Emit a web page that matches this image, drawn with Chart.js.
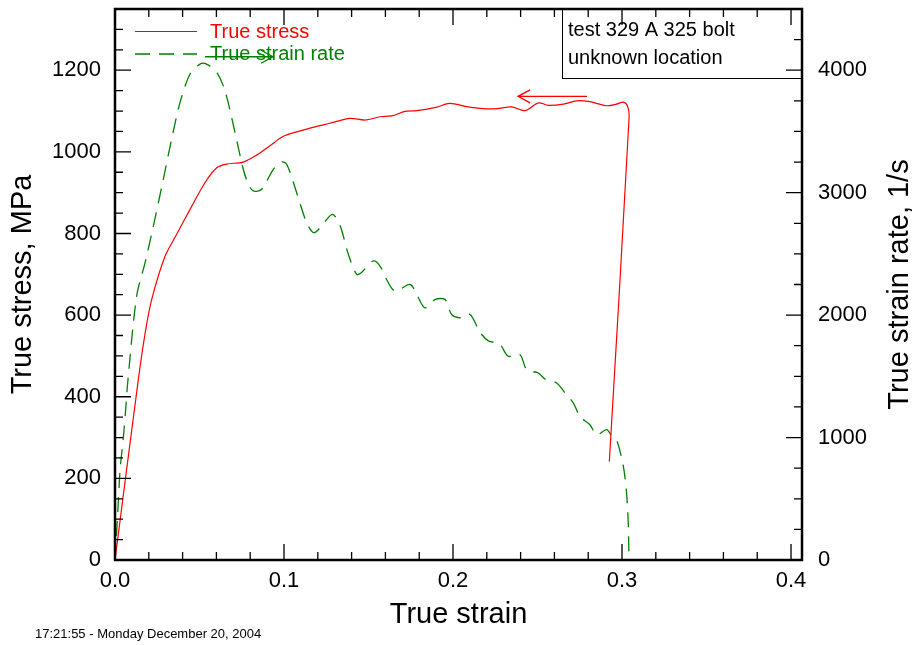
<!DOCTYPE html>
<html>
<head>
<meta charset="utf-8">
<title>True stress / true strain rate</title>
<script src="https://cdn.jsdelivr.net/npm/chart.js@4.4.0/dist/chart.umd.min.js"></script>
<style>
  html, body { margin: 0; padding: 0; background: #fff; }
  #wrap { width: 912px; height: 645px; }
</style>
</head>
<body>
<div id="wrap"><canvas id="chart" width="912" height="645"></canvas></div>
<script>
// ════════════════════════════════════════════════════════════
// True stress + true strain rate vs true strain (test 329)
// ════════════════════════════════════════════════════════════

// ── DATA : true stress (left axis, MPa) ─────────────────────
const STRESS_STRAIN = [0, 0.0138, 0.018, 0.0217, 0.0296, 0.0365, 0.0444, 0.0533, 0.0602, 0.066,
  0.0759, 0.0838, 0.0917, 0.0996, 0.1075, 0.119, 0.127, 0.139, 0.148, 0.157,
  0.1637, 0.1716, 0.1785, 0.190, 0.198, 0.208, 0.218, 0.226, 0.2347, 0.2426,
  0.2505, 0.2564, 0.2653, 0.2732, 0.281, 0.291, 0.2968, 0.3008, 0.3032, 0.3042, 0.2925];
const STRESS = [0, 442, 560, 638, 744, 798, 859, 925, 961, 970,
  975, 992, 1015, 1038, 1049, 1062, 1070, 1082, 1078, 1086,
  1088, 1099, 1101, 1109, 1119, 1111, 1106, 1106, 1110, 1101,
  1120, 1114, 1117, 1125, 1123, 1113, 1117, 1122, 1113, 1085, 241];

// ── DATA : true strain rate (right axis, 1/s) ───────────────
const RATE_STRAIN = [0, 0.0016, 0.003, 0.005, 0.0063, 0.0075, 0.0128, 0.0178, 0.0227, 0.0286,
  0.0335, 0.0385, 0.0444, 0.0503, 0.0542, 0.0602, 0.0651, 0.071, 0.0759, 0.0789,
  0.0818, 0.0868, 0.0937, 0.0986, 0.1016, 0.1075, 0.1134, 0.1178, 0.1233, 0.1287,
  0.1331, 0.138, 0.143, 0.146, 0.1529, 0.1568, 0.1607, 0.1657, 0.1746, 0.1785,
  0.1834, 0.1893, 0.1953, 0.1992, 0.2051, 0.2101, 0.216, 0.2209, 0.2276, 0.2327,
  0.2396, 0.2436, 0.2505, 0.2544, 0.2613, 0.2663, 0.2712, 0.2751, 0.281, 0.285,
  0.2909, 0.2939, 0.2968, 0.3008, 0.3027, 0.3037, 0.3041, 0.3043];
const RATE = [0, 382, 736, 1009, 1227, 1446, 2155, 2428, 2727, 3110,
  3437, 3737, 3969, 4050, 4050, 3983, 3832, 3492, 3191, 3069,
  3014, 3028, 3191, 3251, 3232, 3000, 2755, 2673, 2748, 2823,
  2735, 2500, 2332, 2351, 2442, 2401, 2291, 2196, 2250, 2168,
  2059, 2127, 2127, 2005, 1977, 2005, 1860, 1790, 1763, 1664,
  1677, 1555, 1527, 1478, 1446, 1364, 1282, 1173, 1105, 1023,
  1064, 1015, 982, 764, 546, 300, 41, 0];

// ── AXES : ticks and labels ──────────────────────────────────
const STRAIN_TICKS = [0, 0.1, 0.2, 0.3, 0.4];
const STRAIN_LABELS = ['0.0', '0.1', '0.2', '0.3', '0.4'];
const STRESS_TICKS = [0, 200, 400, 600, 800, 1000, 1200];
const RATE_TICKS = [0, 1000, 2000, 3000, 4000];

// arrows telling which axis each curve belongs to (data units)
const STRESS_ARROW = { from: 0.2793, to: 0.2385, at: 1136 };
const RATE_ARROW = { from: 0.0533, to: 0.0935, at: 4110 };

const NOTE_LINES = ['test 329 A 325 bolt', 'unknown location'];
const STAMP = '17:21:55 - Monday December 20, 2004';

const RED = '#ff0000';
const GREEN = '#008000';
const FONT = "'Liberation Sans', Arial, Helvetica, sans-serif";

Chart.defaults.font.family = FONT;
Chart.defaults.color = '#000';

const toPoints = (xs, ys) => xs.map((x, i) => ({ x, y: ys[i] }));

// fixed box sizes so the plot area lands where the original has it
const fixBox = (w, h) => s => {
  if (w) s.width = w;
  if (h) s.height = h;
  s.paddingTop = 0; s.paddingBottom = 0;
  s.paddingLeft = 0; s.paddingRight = 0;
};

// ── PLUGIN : frame, inward ticks, legend, notes ──────────────
const decor = {
  id: 'decor',
  afterDraw(chart) {
    const { ctx, chartArea: a } = chart;
    const sx = chart.scales.x, sl = chart.scales.yStress, sr = chart.scales.yRate;
    const [dsStress, dsRate] = chart.data.datasets;
    ctx.save();

    // note box top right
    ctx.fillStyle = '#fff';
    ctx.fillRect(562, a.top, a.right - 562, 78 - a.top);
    ctx.strokeStyle = '#000';
    ctx.lineWidth = 1;
    ctx.strokeRect(562.5, a.top, a.right - 562.5, 78.5 - a.top);
    ctx.fillStyle = '#000';
    ctx.font = '20px ' + FONT;
    ctx.textBaseline = 'middle';
    ctx.textAlign = 'left';
    ctx.fillText(NOTE_LINES[0], 568, 30);
    ctx.fillText(NOTE_LINES[1], 568, 58);

    // inward ticks on all four sides
    ctx.strokeStyle = '#000';
    ctx.lineWidth = 1.3;
    ctx.beginPath();
    for (let i = 0; i * 0.02 <= sx.max + 1e-9; i++) {
      const px = sx.getPixelForValue(i * 0.02);
      const len = i % 5 === 0 ? 16 : 8;
      ctx.moveTo(px, a.bottom); ctx.lineTo(px, a.bottom - len);
      ctx.moveTo(px, a.top); ctx.lineTo(px, a.top + len);
    }
    for (let i = 0; i * 50 <= sl.max; i++) {
      const py = sl.getPixelForValue(i * 50);
      ctx.moveTo(a.left, py); ctx.lineTo(a.left + (i % 4 === 0 ? 16 : 8), py);
    }
    for (let i = 0; i * 250 <= sr.max; i++) {
      const py = sr.getPixelForValue(i * 250);
      ctx.moveTo(a.right, py); ctx.lineTo(a.right - (i % 4 === 0 ? 16 : 8), py);
    }
    ctx.stroke();

    // frame
    ctx.lineWidth = 2.5;
    ctx.strokeRect(a.left, a.top, a.right - a.left, a.bottom - a.top);

    // legend (inside the plot, top left)
    ctx.lineWidth = dsStress.borderWidth;
    ctx.strokeStyle = dsStress.borderColor;
    ctx.setLineDash([]);
    ctx.beginPath(); ctx.moveTo(135, 31.5); ctx.lineTo(197, 31.5); ctx.stroke();
    ctx.lineWidth = dsRate.borderWidth;
    ctx.strokeStyle = dsRate.borderColor;
    ctx.setLineDash(dsRate.borderDash);
    ctx.beginPath(); ctx.moveTo(135, 54); ctx.lineTo(197, 54); ctx.stroke();
    ctx.setLineDash([]);
    ctx.font = '20px ' + FONT;
    ctx.fillStyle = RED;
    ctx.fillText(dsStress.label, 210, 32);
    ctx.fillStyle = GREEN;
    ctx.fillText(dsRate.label, 210, 54);

    // axis arrows
    const arrow = (x0, x1, y, color) => {
      const dir = Math.sign(x1 - x0);
      ctx.strokeStyle = color;
      ctx.lineWidth = 1.3;
      ctx.beginPath();
      ctx.moveTo(x0, y); ctx.lineTo(x1, y);
      ctx.moveTo(x1 - dir * 12, y - 6.5); ctx.lineTo(x1, y); ctx.lineTo(x1 - dir * 12, y + 6.5);
      ctx.stroke();
    };
    arrow(sx.getPixelForValue(STRESS_ARROW.from), sx.getPixelForValue(STRESS_ARROW.to),
      sl.getPixelForValue(STRESS_ARROW.at), RED);
    arrow(sx.getPixelForValue(RATE_ARROW.from), sx.getPixelForValue(RATE_ARROW.to),
      sr.getPixelForValue(RATE_ARROW.at), GREEN);

    // right axis title, reading bottom to top like the left one
    ctx.fillStyle = '#000';
    ctx.font = '29px ' + FONT;
    ctx.textAlign = 'center';
    ctx.translate(900, (a.top + a.bottom) / 2);
    ctx.rotate(-Math.PI / 2);
    ctx.fillText('True strain rate, 1/s', 0, 0);
    ctx.setTransform(1, 0, 0, 1, 0, 0);

    // time stamp
    ctx.font = '13px ' + FONT;
    ctx.textAlign = 'left';
    ctx.fillText(STAMP, 35, 634);
    ctx.restore();
  }
};

// ── CHART ────────────────────────────────────────────────────
new Chart(document.getElementById('chart').getContext('2d'), {
  type: 'line',
  data: {
    datasets: [{
      label: 'True stress',
      data: toPoints(STRESS_STRAIN, STRESS),
      yAxisID: 'yStress',
      borderColor: RED,
      borderWidth: 1.2,
      pointRadius: 0,
      tension: 0.3,
      fill: false
    }, {
      label: 'True strain rate',
      data: toPoints(RATE_STRAIN, RATE),
      yAxisID: 'yRate',
      borderColor: GREEN,
      borderWidth: 1.3,
      borderDash: [15, 9],
      pointRadius: 0,
      tension: 0.3,
      fill: false
    }]
  },
  options: {
    responsive: false,
    animation: false,
    devicePixelRatio: 1,
    layout: { padding: { top: 9, left: 0, right: 0, bottom: 0 } },
    plugins: { legend: { display: false }, tooltip: { enabled: false } },
    scales: {
      x: {
        type: 'linear',
        position: 'bottom',
        min: 0,
        max: 0.4065,
        afterBuildTicks: s => { s.ticks = STRAIN_TICKS.map(value => ({ value })); },
        afterFit: fixBox(0, 85),
        ticks: {
          padding: 8,
          font: { size: 22 },
          maxRotation: 0,
          callback: (v, i) => STRAIN_LABELS[i]
        },
        grid: { display: false, drawTicks: false },
        border: { display: false },
        title: { display: true, text: 'True strain', font: { size: 29 }, padding: { bottom: 13 } }
      },
      yStress: {
        type: 'linear',
        position: 'left',
        min: 0,
        max: 1350,
        afterBuildTicks: s => { s.ticks = STRESS_TICKS.map(value => ({ value })); },
        afterFit: fixBox(115, 0),
        ticks: { padding: 14, font: { size: 22 }, callback: v => String(v) },
        grid: { display: false, drawTicks: false },
        border: { display: false },
        title: { display: true, text: 'True stress, MPa', font: { size: 29 }, padding: { top: 6 } }
      },
      yRate: {
        type: 'linear',
        position: 'right',
        min: 0,
        max: 4500,
        afterBuildTicks: s => { s.ticks = RATE_TICKS.map(value => ({ value })); },
        afterFit: fixBox(110, 0),
        ticks: { padding: 16, font: { size: 22 }, callback: v => String(v) },
        grid: { display: false, drawTicks: false },
        border: { display: false }
      }
    }
  },
  plugins: [decor]
});
</script>
</body>
</html>
